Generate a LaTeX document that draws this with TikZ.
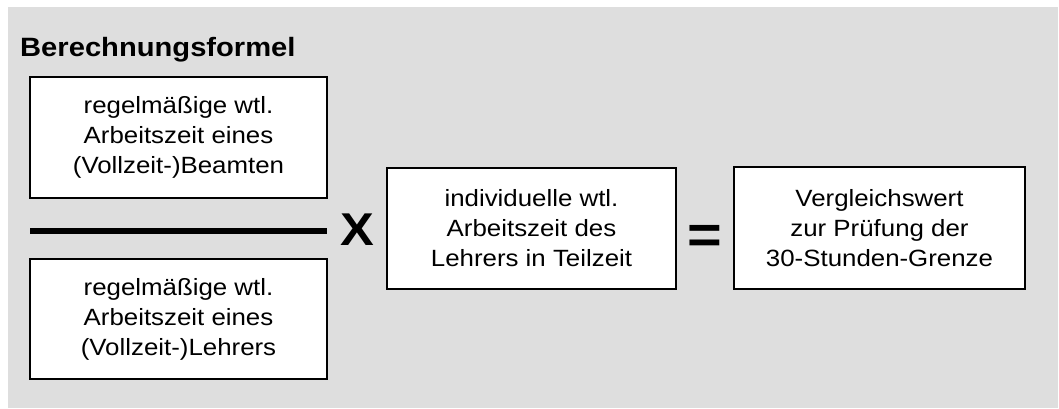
\documentclass[tikz,border=0pt]{standalone}
\usepackage{fontspec}
\setmainfont{Liberation Sans}[FakeStretch=1.1]
\definecolor{bggray}{RGB}{222,222,222}
\tikzset{
  box/.style={draw=black, line width=1.6pt, fill=white, inner sep=0pt, align=center,
    font=\fontsize{23.5pt}{30pt}\selectfont},
  opsym/.style={inner sep=0pt, font=\fontsize{46pt}{50pt}\selectfont\bfseries},
}
\begin{document}
\begin{tikzpicture}[x=1pt,y=-1pt]
\useasboundingbox (0,0) rectangle (1059,408);
\fill[bggray] (8,7) rectangle (1058,408);
\node[anchor=base west, inner sep=0pt, font=\fontsize{26.5pt}{30pt}\selectfont\bfseries] (title) at (20,56) {Berechnungsformel};
\node[box, minimum width=297pt, minimum height=121pt] (b1) at (178.5,137.5) {regelmäßige wtl.\\Arbeitszeit eines\\(Vollzeit-)Beamten};
\node[box, minimum width=297pt, minimum height=120pt] (b2) at (178.5,319) {regelmäßige wtl.\\Arbeitszeit eines\\(Vollzeit-)Lehrers};
\coordinate (barL) at (30,231);
\coordinate (barR) at (327,231);
\draw[line width=6pt] (barL) -- (barR);
\node[opsym, anchor=base] (times) at (357,245) {X};
\node[box, minimum width=289pt, minimum height=121pt] (b3) at (531.5,228.5) {individuelle wtl.\\Arbeitszeit des\\Lehrers in Teilzeit};
\node[opsym, anchor=base, font=\fontsize{54pt}{58pt}\selectfont\bfseries] (eq) at (705,253) {=};
\node[box, minimum width=291pt, minimum height=122pt] (b4) at (879.5,228) {Vergleichswert\\zur Prüfung der\\30-Stunden-Grenze};
\end{tikzpicture}
\end{document}
